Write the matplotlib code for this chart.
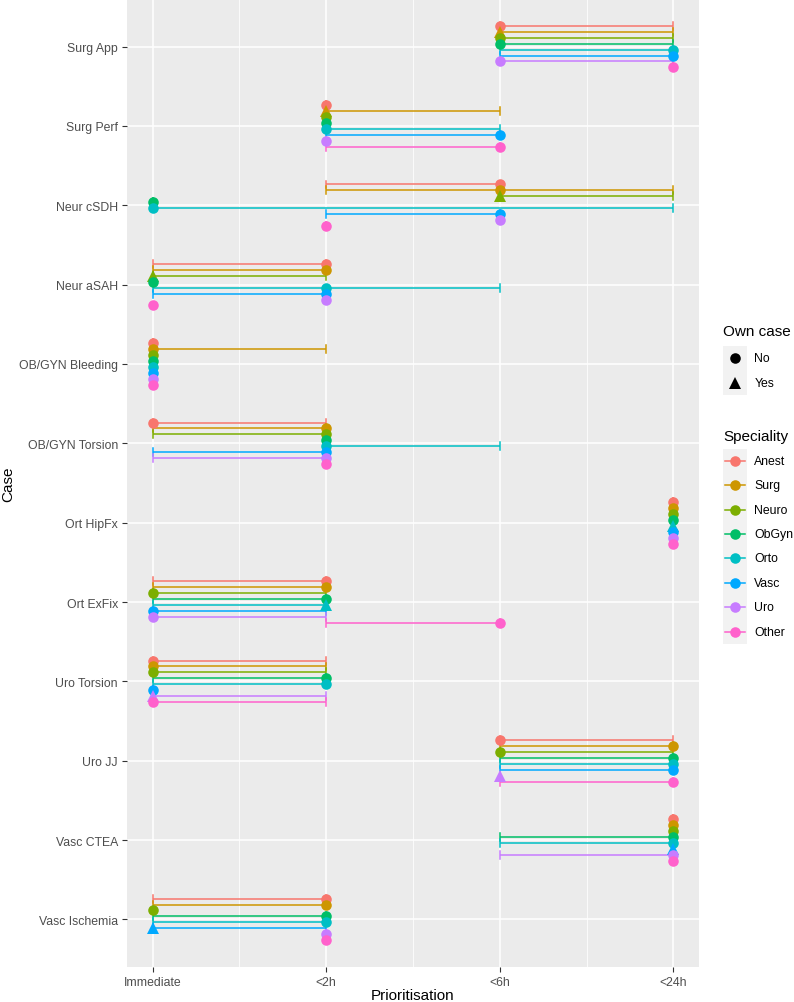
import numpy as np
import matplotlib
matplotlib.use('Agg')
import matplotlib.pyplot as plt

plt.rcParams['font.family'] = ['Liberation Sans', 'DejaVu Sans']

# data: 1=Immediate, 2=<2h, 3=<6h, 4=<24h
levels = ['Immediate', '<2h', '<6h', '<24h']
cases = ['Surg App', 'Surg Perf', 'Neur cSDH', 'Neur aSAH', 'OB/GYN Bleeding',
         'OB/GYN Torsion', 'Ort HipFx', 'Ort ExFix', 'Uro Torsion', 'Uro JJ',
         'Vasc CTEA', 'Vasc Ischemia']
specialities = ['Anest', 'Surg', 'Neuro', 'ObGyn', 'Orto', 'Vasc', 'Uro', 'Other']
colors = ['#F8766D', '#CD9600', '#7CAE00', '#00BE67', '#00BFC4', '#00A9FF',
          '#C77CFF', '#FF61CC']

# rows = cases, columns = specialities
median = [
    [3, 3, 3, 3, 4, 4, 3, 4],
    [2, 2, 2, 2, 2, 3, 2, 3],
    [3, 3, 3, 1, 1, 3, 3, 2],
    [2, 2, 1, 1, 2, 2, 2, 1],
    [1, 1, 1, 1, 1, 1, 1, 1],
    [1, 2, 2, 2, 2, 2, 2, 2],
    [4, 4, 4, 4, 4, 4, 4, 4],
    [2, 2, 1, 2, 2, 1, 1, 3],
    [1, 1, 1, 2, 2, 1, 1, 1],
    [3, 4, 3, 4, 4, 4, 3, 4],
    [4, 4, 4, 4, 4, 4, 4, 4],
    [2, 2, 1, 2, 2, 1, 2, 2],
]
low = [
    [3, 3, 3, 3, 3, 3, 3, 4],
    [2, 2, 2, 2, 2, 2, 2, 2],
    [2, 2, 3, 1, 1, 2, 3, 2],
    [1, 1, 1, 1, 1, 1, 2, 1],
    [1, 1, 1, 1, 1, 1, 1, 1],
    [1, 1, 1, 2, 2, 1, 1, 2],
    [4, 4, 4, 4, 4, 4, 4, 4],
    [1, 1, 1, 1, 1, 1, 1, 2],
    [1, 1, 1, 1, 1, 1, 1, 1],
    [3, 3, 3, 3, 3, 3, 3, 3],
    [4, 4, 4, 3, 3, 4, 3, 4],
    [1, 1, 1, 1, 1, 1, 2, 2],
]
high = [
    [4, 4, 4, 4, 4, 4, 4, 4],
    [2, 3, 2, 2, 3, 3, 2, 3],
    [3, 4, 4, 1, 4, 3, 3, 2],
    [2, 2, 2, 1, 3, 2, 2, 1],
    [1, 2, 1, 1, 1, 1, 1, 1],
    [2, 2, 2, 2, 3, 2, 2, 2],
    [4, 4, 4, 4, 4, 4, 4, 4],
    [2, 2, 2, 2, 2, 2, 2, 3],
    [2, 2, 2, 2, 2, 1, 2, 2],
    [4, 4, 4, 4, 4, 4, 3, 4],
    [4, 4, 4, 4, 4, 4, 4, 4],
    [2, 2, 1, 2, 2, 2, 2, 2],
]
# speciality that owns the case (drawn as triangle), None if none
own_case = ['Surg', 'Surg', 'Neuro', 'Neuro', None, None, 'Orto', 'Orto',
            'Uro', 'Uro', 'Vasc', 'Vasc']

W, H = 794, 1003
fig = plt.figure(figsize=(W / 100, H / 100), dpi=100)
ax = fig.add_axes([126.7 / W, (H - 968) / H, (699.3 - 126.7) / W, 968 / H])
ax.set_facecolor('#EBEBEB')

n_case = len(cases)
n_spec = len(specialities)
dodge = 0.6 / n_spec
cap = 0.05

for i, case in enumerate(cases):
    ybase = n_case - 1 - i
    for j, spec in enumerate(specialities):
        y = ybase + (n_spec - 1) / 2 * dodge - j * dodge
        c = colors[j]
        lo, hi, md = low[i][j], high[i][j], median[i][j]
        ax.plot([lo, hi], [y, y], color=c, lw=1.1, zorder=3, solid_capstyle='butt')
        ax.plot([lo, lo], [y - cap, y + cap], color=c, lw=1.1, zorder=3)
        ax.plot([hi, hi], [y - cap, y + cap], color=c, lw=1.1, zorder=3)
        mk = '^' if own_case[i] == spec else 'o'
        ms = 8.5 if mk == '^' else 7.6
        ax.plot(md, y, marker=mk, color=c, ms=ms, mew=0, ls='none', zorder=4)

ax.set_xlim(1 - 0.15, 4 + 0.15)
ax.set_ylim(-0.6, n_case - 1 + 0.6)
ax.set_xticks(range(1, 5))
ax.set_xticklabels(levels)
ax.set_xticks([1.5, 2.5, 3.5], minor=True)
ax.set_yticks(range(n_case))
ax.set_yticklabels(cases[::-1])
ax.grid(True, which='major', color='white', lw=1.1, zorder=0)
ax.grid(True, which='minor', axis='x', color='white', lw=0.55, zorder=0)
ax.set_axisbelow(True)
for s in ax.spines.values():
    s.set_visible(False)
ax.tick_params(which='major', length=3.8, width=0.8, color='#333333',
               labelsize=8.8, labelcolor='#4D4D4D', pad=2.5)
ax.tick_params(which='minor', length=0)
ax.set_xlabel('Prioritisation', fontsize=11, labelpad=0.5)
ax.set_ylabel('Case', fontsize=11, labelpad=2.5)

# legends, drawn in pixel space on an overlay axes
lax = fig.add_axes([0, 0, 1, 1])
lax.set_xlim(0, W)
lax.set_ylim(H, 0)
lax.axis('off')

key = 24.4
kx = 723
lax.text(kx, 336, 'Own case', fontsize=11, va='baseline', ha='left')
shapes = [('o', 'No'), ('^', 'Yes')]
y0 = 347
lax.add_patch(plt.Rectangle((kx, y0), key, key * len(shapes), color='#F2F2F2', lw=0))
for k, (mk, lab) in enumerate(shapes):
    yc = y0 + key * (k + 0.5)
    lax.plot(kx + key / 2, yc, marker=mk, color='black', ms=7.6 if mk == 'o' else 8.5, mew=0)
    lax.text(kx + key + 7, yc, lab, fontsize=8.8, va='center', ha='left')

lax.text(kx, 441, 'Speciality', fontsize=11, va='baseline', ha='left')
y0 = 449.5
lax.add_patch(plt.Rectangle((kx, y0), key, key * n_spec, color='#F2F2F2', lw=0))
for k, spec in enumerate(specialities):
    yc = y0 + key * (k + 0.5)
    lax.plot([kx + 2, kx + key - 2], [yc, yc], color=colors[k], lw=1.1)
    lax.plot(kx + key / 2, yc, marker='o', color=colors[k], ms=7.6, mew=0)
    lax.text(kx + key + 7, yc, spec, fontsize=8.8, va='center', ha='left')

fig.savefig('out.png', dpi=100)
